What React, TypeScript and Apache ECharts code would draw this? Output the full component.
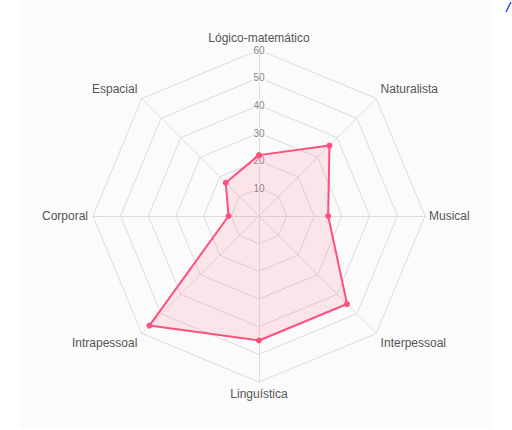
import React, { useEffect, useRef } from "react";
import * as echarts from "echarts";

const indicators = [
  "Lógico-matemático",
  "Espacial",
  "Corporal",
  "Intrapessoal",
  "Linguística",
  "Interpessoal",
  "Musical",
  "Naturalista",
];
const values = [22, 17, 11, 56, 45, 45, 25, 36];
const maxValue = 60;
const splitCount = 6;

// diagonal axis names sit a little further from the polygon vertically
const upperDiagonal = ["Espacial", "Naturalista"];
const lowerDiagonal = ["Intrapessoal", "Interpessoal"];
const nameGaps = [6, 6, 5, 6, 6, 6, 4, 6];

export default function App() {
  const ref = useRef<HTMLDivElement>(null);
  useEffect(() => {
    const chart = echarts.init(ref.current!, null, { renderer: "svg" });
    const nameStyle = {
      color: "#555",
      fontSize: 12,
      fontFamily: "Liberation Sans, Arial, sans-serif",
    };
    chart.setOption({
      animation: false,
      backgroundColor: "#ffffff",
      textStyle: { fontFamily: "Liberation Sans, Arial, sans-serif" },
      graphic: [
        {
          type: "rect",
          z: -10,
          shape: { x: 19, y: 0, width: 472, height: 429 },
          style: { fill: "#fbfbfb" },
          silent: true,
        },
        {
          type: "line",
          shape: { x1: 506, y1: 12, x2: 511, y2: 2 },
          style: { stroke: "#2f4bff", lineWidth: 1.5 },
        },
      ],
      radar: {
        center: [259, 216],
        radius: 166,
        startAngle: 90,
        shape: "polygon",
        splitNumber: splitCount,
        nameGap: 6,
        axisName: {
          ...nameStyle,
          formatter: (name: string) =>
            upperDiagonal.indexOf(name) >= 0
              ? `{up|${name}}`
              : lowerDiagonal.indexOf(name) >= 0
              ? `{dn|${name}}`
              : name,
          rich: {
            up: { ...nameStyle, padding: [0, 0, 10, 0] },
            dn: { ...nameStyle, padding: [10, 0, 0, 0] },
          },
        },
        indicator: indicators.map((name, i) => ({
          name,
          min: 0,
          max: maxValue,
          nameGap: nameGaps[i],
          ...(i === 0
            ? {
                axisLabel: {
                  show: true,
                  showMinLabel: false,
                  margin: 0,
                  align: "center",
                  verticalAlign: "middle",
                  rotate: 0,
                  color: "#888",
                  fontSize: 10,
                  backgroundColor: "rgba(251,251,251,0.8)",
                  padding: [0, 1],
                },
              }
            : {}),
        })),
        axisLine: { lineStyle: { color: "#dcdcdc", width: 1 } },
        splitLine: { lineStyle: { color: "#dcdcdc", width: 1 } },
        splitArea: { show: false },
        axisLabel: { show: false },
        axisTick: { show: false },
      },
      series: [
        {
          type: "radar",
          symbol: "circle",
          symbolSize: 6,
          lineStyle: { color: "#ff4f7b", width: 2 },
          itemStyle: { color: "#ff4f7b" },
          areaStyle: { color: "rgba(255,99,132,0.2)" },
          data: [{ value: values, name: "Inteligências" }],
        },
      ],
    });
    return () => chart.dispose();
  }, []);
  return (
    <div
      ref={ref}
      style={{ position: "fixed", left: 0, top: 0, width: 512, height: 430 }}
    />
  );
}
